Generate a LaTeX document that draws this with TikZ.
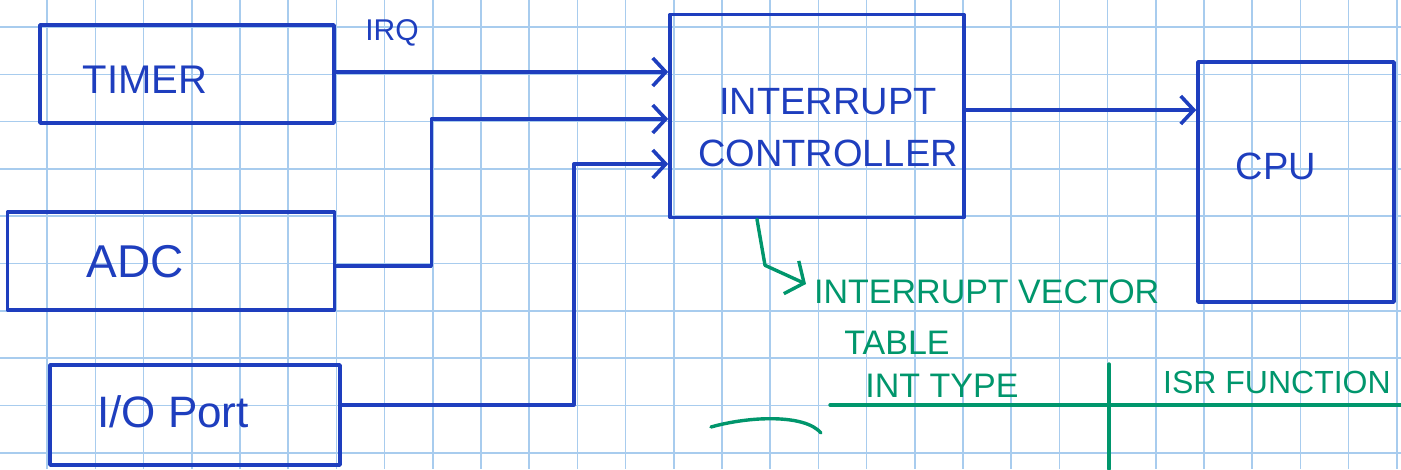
\documentclass[tikz,border=0pt]{standalone}
\usepackage{fontspec}
\setmainfont{Liberation Sans}
\usepackage{tikz}
\usetikzlibrary{arrows.meta,positioning}
\definecolor{inkblue}{RGB}{30,62,190}
\definecolor{inkgreen}{RGB}{0,150,108}
\definecolor{paperline}{RGB}{168,204,238}
\tikzset{
  gridline/.style={draw=paperline, line width=1.6pt},
  inkbox/.style={draw=inkblue, line width=3.6pt, line join=round,
                 inner sep=0pt},
  inktext/.style={text=inkblue, inner sep=0pt, align=center},
  notetext/.style={text=inkgreen, inner sep=0pt, align=left},
  wire/.style={-{Straight Barb[length=13pt,width=28pt]}, draw=inkblue,
               line width=3.6pt, line join=round},
  noteline/.style={draw=inkgreen, line width=3.4pt, line cap=round,
                   line join=round}
}

\begin{document}
\begin{tikzpicture}[x=1pt, y=-1pt]
  \useasboundingbox (0,0) rectangle (1401,469);
  \clip (0,0) rectangle (1401,469);
  \fill[white] (0,0) rectangle (1401,469);
  % squared paper
  \foreach \k in {0,...,29} \draw[gridline] (-1+48.2*\k,0) -- (-1+48.2*\k,469);
  \foreach \k in {0,...,9} \draw[gridline] (0,27+47.3*\k) -- (1401,27+47.3*\k);

  % blocks
  \node[inkbox, minimum width=294pt, minimum height=98pt] (timer) at (187,74) {};
  \node[inkbox, minimum width=327pt, minimum height=98pt] (adc) at (171,261) {};
  \node[inkbox, minimum width=290pt, minimum height=100pt] (io) at (195,415) {};
  \node[inkbox, minimum width=294pt, minimum height=203pt] (ctrl) at (817,116) {};
  \node[inkbox, minimum width=196pt, minimum height=240pt] (cpu) at (1296,182) {};

  \node[inktext, font=\fontsize{40}{48}\selectfont] (timer-t) at (145,80) {TIMER};
  \node[inktext, font=\fontsize{46}{54}\selectfont] (adc-t) at (135,262) {ADC};
  \node[inktext, font=\fontsize{44}{52}\selectfont] (io-t) at (173,412) {I/O Port};
  \node[inktext, font=\fontsize{38}{52}\selectfont] (ctrl-t) at (828,128) {INTERRUPT\\CONTROLLER};
  \node[inktext, font=\fontsize{38}{46}\selectfont] (cpu-t) at (1276,166) {CPU};
  \node[inktext, font=\fontsize{30}{36}\selectfont] (irq) at (392,33) {IRQ};

  % interrupt lines
  \coordinate (in1) at ([yshift=44pt]ctrl.west);
  \coordinate (in2) at ([yshift=-3pt]ctrl.west);
  \coordinate (in3) at ([yshift=-48pt]ctrl.west);
  \draw[wire] (timer.east |- in1) -- (in1);
  \draw[wire] ([yshift=-5pt]adc.east) -- ++(95,0) |- (in2);
  \draw[wire] ([yshift=10pt]io.east) -- ++(232,0) |- (in3);
  \draw[wire] ([yshift=6pt]ctrl.east) -- ([yshift=6pt]ctrl.east -| cpu.west);

  % vector table note
  \node[notetext, anchor=west, font=\fontsize{34}{40}\selectfont] (vt) at (814,292) {INTERRUPT VECTOR};
  \node[notetext, font=\fontsize{34}{40}\selectfont] (vt2) at (897,343) {TABLE};
  \draw[noteline, -{Straight Barb[length=14pt,width=36pt]}]
    ([xshift=-60pt]ctrl.south) -- ++(8,46) -- ([xshift=-8pt,yshift=8pt]vt.west);

  \node[notetext, font=\fontsize{34}{40}\selectfont] (col1) at (942,386) {INT TYPE};
  \node[notetext, anchor=west, font=\fontsize{32}{38}\selectfont] (col2) at (1163,382) {ISR FUNCTION};
  \coordinate (rule-l) at (830,405);
  \coordinate (rule-r) at (1401,405);
  \coordinate (sep-t) at (1109,364);
  \coordinate (sep-b) at (1109,469);
  \draw[noteline] (rule-l) -- (rule-r);
  \draw[noteline] (sep-t) -- (sep-b);
  \draw[noteline] (711,427) .. controls (750,416) and (805,414) .. (821,433);
\end{tikzpicture}
\end{document}
